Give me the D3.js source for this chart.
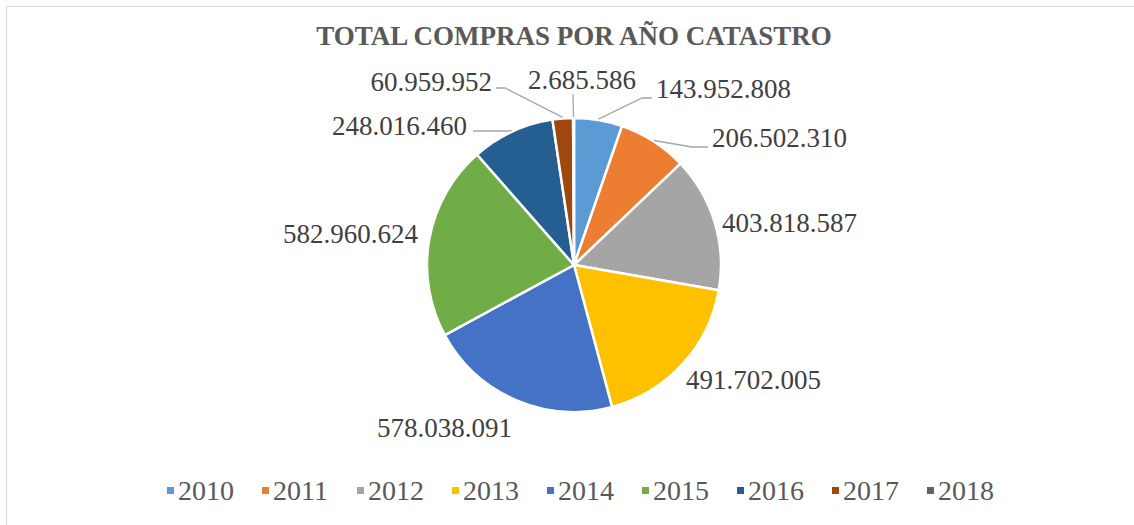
<!DOCTYPE html>
<html>
<head>
<meta charset="utf-8">
<script src="https://cdn.jsdelivr.net/npm/d3@7/dist/d3.min.js"></script>
<style>
    body { margin: 0; background: #fff; }
    svg text { font-family: "Liberation Serif", "DejaVu Serif", serif; }
</style>
</head>
<body>
<div id="chart"></div>
<script>
const years = ['2010', '2011', '2012', '2013', '2014', '2015', '2016', '2017', '2018'];
const totals = [143952808, 206502310, 403818587, 491702005, 578038091, 582960624, 248016460, 60959952, 2685586];
const colors = ['#5b9bd5', '#ed7d31', '#a5a5a5', '#ffc000', '#4472c4', '#70ad47', '#255e91', '#9e480e', '#636363'];
const title = 'TOTAL COMPRAS POR AÑO CATASTRO';

// where excel put each data label (relative to the pie centre) and whether it has a leader line
var label_layout = [
    { dx: 82, dy: -167, anchor: 'start', leader: [[68, -167], [78, -167]] },
    { dx: 138, dy: -118, anchor: 'start', leader: [[118, -118], [134, -118]] },
    { dx: 148, dy: -33, anchor: 'start', leader: null },
    { dx: 112, dy: 124, anchor: 'start', leader: null },
    { dx: -62, dy: 172, anchor: 'end', leader: null },
    { dx: -156, dy: -22, anchor: 'end', leader: null },
    { dx: -107, dy: -130, anchor: 'end', leader: [[-66, -134], [-101, -134]] },
    { dx: -82, dy: -174, anchor: 'end', leader: [[-69, -177], [-78, -177]] },
    { dx: 8, dy: -176, anchor: 'middle', leader: [[-1, -171], [-1, -171]] }
];

function fmt(v) {
    return v.toString().replace(/\B(?=(\d{3})+(?!\d))/g, '.');
}

function draw_pie() {
    var width = 1134;
    var height = 525;
    var cx = 574, cy = 265, radius = 147;

    var svg = d3.select('#chart').append('svg')
        .attr('width', width)
        .attr('height', height);

    svg.append('rect')
        .attr('x', 6.5).attr('y', 6.5)
        .attr('width', 1140).attr('height', 540)
        .attr('fill', '#fff')
        .attr('stroke', '#d9d9d9')
        .attr('stroke-width', 1);

    svg.append('text')
        .attr('x', cx).attr('y', 45)
        .attr('text-anchor', 'middle')
        .attr('font-size', 27)
        .attr('font-weight', 'bold')
        .attr('fill', '#595959')
        .text(title);

    var dataset = years.map(function (y, i) { return { year: y, value: totals[i], idx: i }; });
    var pie = d3.pie().sort(null).value(function (d) { return d.value; });
    var arc = d3.arc().innerRadius(0).outerRadius(radius);
    var slices = pie(dataset);

    var g = svg.append('g').attr('transform', 'translate(' + cx + ',' + cy + ')');

    g.selectAll('.slice').data(slices)
        .enter().append('path')
        .attr('class', 'slice')
        .attr('d', arc)
        .attr('fill', function (d) { return colors[d.data.idx]; })
        .attr('stroke', '#fff')
        .attr('stroke-width', 2.5)
        .attr('stroke-linejoin', 'round');

    // leader lines start on the rim at the middle of the slice
    g.selectAll('.leader').data(slices.filter(function (d) { return label_layout[d.data.idx].leader; }))
        .enter().append('polyline')
        .attr('class', 'leader')
        .attr('fill', 'none')
        .attr('stroke', '#a6a6a6')
        .attr('stroke-width', 1.3)
        .attr('points', function (d) {
            var a = (d.startAngle + d.endAngle) / 2;
            var rim = [Math.sin(a) * (radius + 1), -Math.cos(a) * (radius + 1)];
            var pts = [rim].concat(label_layout[d.data.idx].leader);
            return pts.map(function (p) { return p.join(','); }).join(' ');
        });

    g.selectAll('.value-label').data(slices)
        .enter().append('text')
        .attr('class', 'value-label')
        .attr('x', function (d) { return label_layout[d.data.idx].dx; })
        .attr('y', function (d) { return label_layout[d.data.idx].dy; })
        .attr('text-anchor', function (d) { return label_layout[d.data.idx].anchor; })
        .attr('font-size', 27)
        .attr('fill', '#404040')
        .text(function (d) { return fmt(d.data.value); });

    // legend
    var legend_x = d3.scalePoint().domain(years).range([167, 927]);
    var lg = svg.selectAll('.legend').data(years)
        .enter().append('g')
        .attr('class', 'legend')
        .attr('transform', function (d) { return 'translate(' + legend_x(d) + ',487)'; });
    lg.append('rect')
        .attr('width', 7).attr('height', 7)
        .attr('fill', function (d, i) { return colors[i]; });
    lg.append('text')
        .attr('x', 11).attr('y', 13)
        .attr('font-size', 28)
        .attr('fill', '#595959')
        .text(function (d) { return d; });
}

draw_pie();
</script>
</body>
</html>
